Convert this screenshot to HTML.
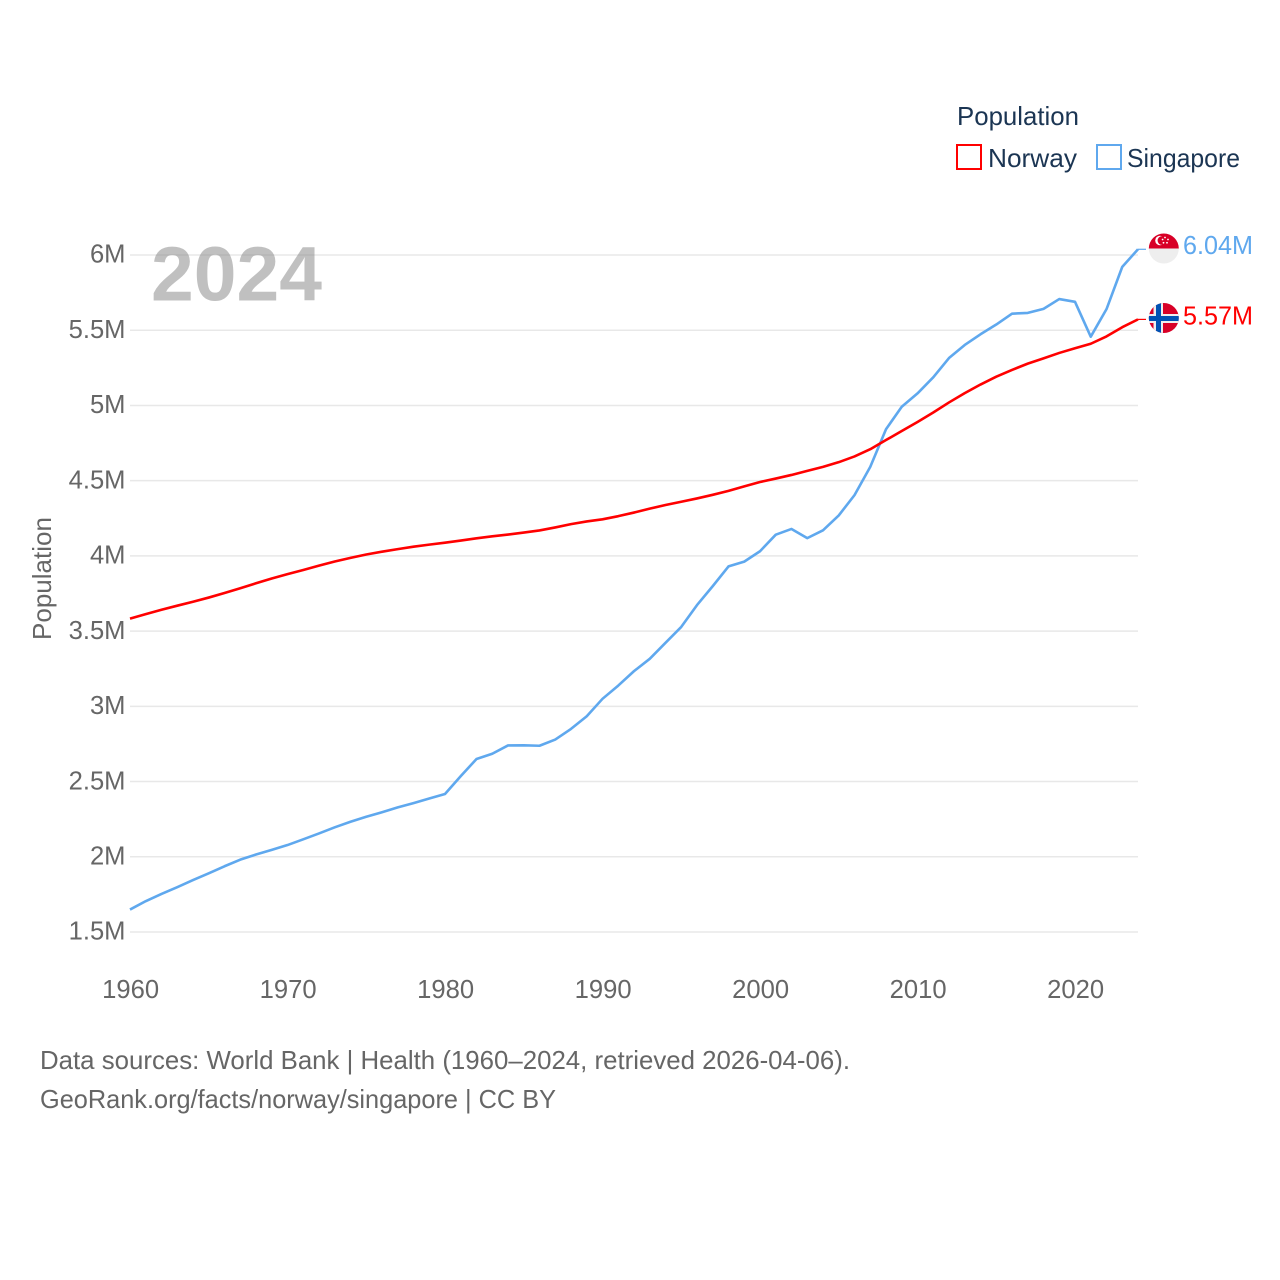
<!DOCTYPE html>
<html lang="en">
<head>
<meta charset="utf-8">
<title>Population: Norway and Singapore</title>
<style>
html,body{margin:0;padding:0;background:#fff;}
svg{display:block;font-family:"Liberation Sans",sans-serif;}
</style>
</head>
<body>
<svg id="chart" xmlns="http://www.w3.org/2000/svg" width="1280" height="1280" viewBox="0 0 1280 1280">
  <defs>
    <clipPath id="flag-clip-sg"><circle cx="1163.8" cy="248.5" r="15"/></clipPath>
    <clipPath id="flag-clip-no"><circle cx="1163.8" cy="318" r="15"/></clipPath>
  </defs>
  <rect width="1280" height="1280" fill="#fff"/>
  <g id="grid"></g>
  <g id="yticks"></g>
  <g id="xticks"></g>
  <text transform="translate(51,578.5) rotate(-90)" text-anchor="middle" font-size="25.6" fill="#666" textLength="123" lengthAdjust="spacingAndGlyphs">Population</text>
  <g id="series"></g>
  <text x="151" y="300.5" font-size="77" font-weight="700" fill="#8c8c8c" fill-opacity="0.55" textLength="171" lengthAdjust="spacingAndGlyphs">2024</text>

  <g>
    <text x="957" y="125" font-size="25.6" fill="#1b3553" textLength="122" lengthAdjust="spacingAndGlyphs">Population</text>
    <g>
      <rect x="957" y="145" width="24" height="24" fill="#fff" stroke="#ff0000" stroke-width="2"/>
      <text x="988" y="167" font-size="25.6" fill="#1b3553" textLength="89" lengthAdjust="spacingAndGlyphs">Norway</text>
    </g>
    <g>
      <rect x="1097" y="145" width="24" height="24" fill="#fff" stroke="#5fa8ee" stroke-width="2"/>
      <text x="1127" y="167" font-size="25.6" fill="#1b3553" textLength="113" lengthAdjust="spacingAndGlyphs">Singapore</text>
    </g>
  </g>

  <g clip-path="url(#flag-clip-sg)">
    <rect x="1148" y="233" width="32" height="15.5" fill="#d80027"/>
    <rect x="1148" y="248.5" width="32" height="15.5" fill="#eeeeee"/>
    <circle cx="1160" cy="240.5" r="4.8" fill="#fff"/>
    <circle cx="1162" cy="240.5" r="4.4" fill="#d80027"/>
    <circle cx="1165" cy="237.5" r="0.9" fill="#fff"/>
    <circle cx="1168" cy="239.5" r="0.9" fill="#fff"/>
    <circle cx="1167" cy="242.8" r="0.9" fill="#fff"/>
    <circle cx="1163.5" cy="242.8" r="0.9" fill="#fff"/>
    <circle cx="1162.6" cy="239.5" r="0.9" fill="#fff"/>
  </g>
  <g clip-path="url(#flag-clip-no)">
    <rect x="1148" y="302" width="32" height="32" fill="#d80027"/>
    <rect x="1153.5" y="302" width="9.5" height="32" fill="#eeeeee"/>
    <rect x="1148" y="314" width="32" height="9" fill="#eeeeee"/>
    <rect x="1156" y="302" width="5" height="32" fill="#0052b4"/>
    <rect x="1148" y="316" width="32" height="5" fill="#0052b4"/>
  </g>
  <text x="1183" y="254" font-size="25.6" fill="#5fa8ee" textLength="70" lengthAdjust="spacingAndGlyphs">6.04M</text>
  <text x="1183" y="324.5" font-size="25.6" fill="#ff0000" textLength="70" lengthAdjust="spacingAndGlyphs">5.57M</text>

  <g font-size="25.6" fill="#666">
    <text x="40" y="1069" textLength="810" lengthAdjust="spacingAndGlyphs">Data sources: World Bank | Health (1960–2024, retrieved 2026-04-06).</text>
    <text x="40" y="1108" textLength="516" lengthAdjust="spacingAndGlyphs">GeoRank.org/facts/norway/singapore | CC BY</text>
  </g>
</svg>
<script>
const years = [1960,1961,1962,1963,1964,1965,1966,1967,1968,1969,1970,1971,1972,1973,1974,1975,1976,1977,1978,1979,1980,1981,1982,1983,1984,1985,1986,1987,1988,1989,1990,1991,1992,1993,1994,1995,1996,1997,1998,1999,2000,2001,2002,2003,2004,2005,2006,2007,2008,2009,2010,2011,2012,2013,2014,2015,2016,2017,2018,2019,2020,2021,2022,2023,2024];
const norway = [3.583,3.613,3.642,3.669,3.695,3.723,3.753,3.785,3.818,3.85,3.879,3.906,3.935,3.963,3.987,4.009,4.028,4.045,4.061,4.075,4.088,4.102,4.117,4.13,4.142,4.155,4.169,4.189,4.211,4.229,4.243,4.264,4.288,4.314,4.338,4.36,4.382,4.406,4.432,4.462,4.491,4.514,4.538,4.565,4.592,4.623,4.661,4.709,4.77,4.83,4.89,4.953,5.02,5.082,5.139,5.191,5.236,5.278,5.313,5.349,5.38,5.41,5.459,5.52,5.572];
const singapore = [1.649,1.705,1.753,1.798,1.845,1.89,1.937,1.981,2.015,2.046,2.078,2.116,2.155,2.196,2.233,2.266,2.296,2.328,2.357,2.387,2.417,2.536,2.65,2.685,2.74,2.741,2.738,2.779,2.85,2.934,3.05,3.138,3.234,3.316,3.422,3.528,3.673,3.799,3.93,3.962,4.031,4.141,4.179,4.118,4.17,4.269,4.404,4.592,4.842,4.991,5.08,5.187,5.315,5.402,5.473,5.538,5.61,5.615,5.642,5.707,5.689,5.457,5.64,5.921,6.038];
const yTickValues = [1.5,2,2.5,3,3.5,4,4.5,5,5.5,6];
const yTickLabels = ["1.5M","2M","2.5M","3M","3.5M","4M","4.5M","5M","5.5M","6M"];
const xTickValues = [1960,1970,1980,1990,2000,2010,2020];
const xTickLabels = ["1960","1970","1980","1990","2000","2010","2020"];

const NS = 'http://www.w3.org/2000/svg';
function xScale(year){ return 130 + (year - 1960) * (1138 - 130) / 64; }
function yScale(v){ return 932 - (v - 1.5) * (932 - 255) / 4.5; }
function make(tag, attrs, parent){
  const el = document.createElementNS(NS, tag);
  for (const k in attrs) el.setAttribute(k, attrs[k]);
  parent.appendChild(el);
  return el;
}

const grid = document.getElementById('grid');
const yticks = document.getElementById('yticks');
yTickValues.forEach(function(v, i){
  const line = make('line', {x1:130, x2:1138, y1:yScale(v), y2:yScale(v), stroke:'#e8e8e8', 'stroke-width':1.5}, grid);
  
  
  const t = make('text', {x:125.5, y:yScale(v)+7.7, 'text-anchor':'end', 'font-size':25.6, fill:'#666'}, yticks);
  
  
  t.textContent = yTickLabels[i];
});

const xticks = document.getElementById('xticks');
xTickValues.forEach(function(v, i){
  const t = make('text', {x:xScale(v)+0.6, y:998, 'text-anchor':'middle', 'font-size':25.6, fill:'#666'}, xticks);
  
  
  t.textContent = xTickLabels[i];
});

function pathFor(values){
  return values.map(function(v, i){
    return (i ? 'L' : 'M') + xScale(years[i]).toFixed(2) + ' ' + yScale(v).toFixed(2);
  }).join(' ');
}
const seriesGroup = document.getElementById('series');

const singaporeLine = make('path', {d:pathFor(singapore), fill:'none', stroke:'#5fa8ee', 'stroke-width':2.6, 'stroke-linejoin':'round'}, seriesGroup);



const norwayLine = make('path', {d:pathFor(norway), fill:'none', stroke:'#ff0000', 'stroke-width':2.6, 'stroke-linejoin':'round'}, seriesGroup);



const lastIndex = years.length - 1;
const singaporeLeader = make('line', {x1:xScale(years[lastIndex]), x2:1146, y1:yScale(singapore[lastIndex]), y2:yScale(singapore[lastIndex]), stroke:'#5fa8ee', 'stroke-width':1.2}, seriesGroup);



const norwayLeader = make('line', {x1:xScale(years[lastIndex]), x2:1146, y1:yScale(norway[lastIndex]), y2:yScale(norway[lastIndex]), stroke:'#ff0000', 'stroke-width':1.2}, seriesGroup);


</script>
</body>
</html>
